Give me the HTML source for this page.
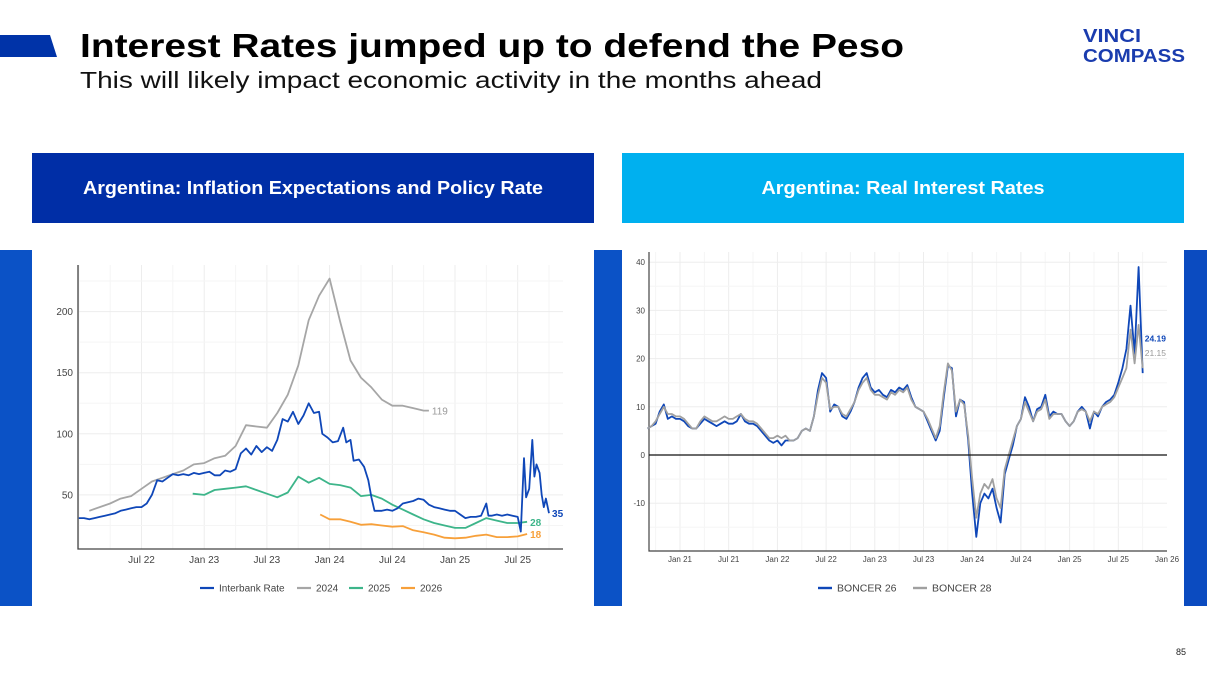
<!DOCTYPE html>
<html><head><meta charset="utf-8"><style>
html,body{margin:0;padding:0;background:#fff;}
svg{display:block;font-family:"Liberation Sans",sans-serif;}
</style></head><body>
<svg id="page" width="1207" height="679" viewBox="0 0 1207 679" xmlns="http://www.w3.org/2000/svg">
<rect width="1207" height="679" fill="#fff"/>
<polygon points="0,35 50,35 57,57 0,57" fill="#0033a8"/>
<text x="80" y="57" font-size="33" font-weight="bold" fill="#000" textLength="824" lengthAdjust="spacingAndGlyphs">Interest Rates jumped up to defend the Peso</text>
<text x="80" y="88" font-size="23" fill="#111" textLength="742" lengthAdjust="spacingAndGlyphs">This will likely impact economic activity in the months ahead</text>
<text x="1083" y="42" font-size="18" font-weight="bold" fill="#1a3cae" textLength="58" lengthAdjust="spacingAndGlyphs">VINCI</text>
<text x="1083" y="62" font-size="18" font-weight="bold" fill="#1a3cae" textLength="102" lengthAdjust="spacingAndGlyphs">COMPASS</text>
<rect x="32" y="153" width="562" height="70" fill="#002ea6"/>
<text x="313" y="194" font-size="18" font-weight="bold" fill="#fff" text-anchor="middle" textLength="460" lengthAdjust="spacingAndGlyphs">Argentina: Inflation Expectations and Policy Rate</text>
<rect x="622" y="153" width="562" height="70" fill="#00b0ef"/>
<text x="903" y="194" font-size="18" font-weight="bold" fill="#fff" text-anchor="middle" textLength="283" lengthAdjust="spacingAndGlyphs">Argentina: Real Interest Rates</text>
<rect x="0" y="250" width="32" height="356" fill="#0b52c6"/>
<rect x="594" y="250" width="28" height="356" fill="#0b52c6"/>
<rect x="1184" y="250" width="23" height="356" fill="#0b4bc0"/>
<g id="left-chart"></g>
<g id="right-chart"></g>
<text x="1176" y="655" font-size="9" fill="#222">85</text>
</svg>
<script>
// ---------- Left chart data (month index: 0 = Jan 22) ----------
const ibDates = [0,0.5,1,1.5,2,2.5,3,3.5,4,4.5,5,5.5,6,6.5,7,7.5,8,8.5,9,9.5,10,10.5,11,11.5,12,12.5,13,13.5,14,14.5,15,15.5,16,16.5,17,17.5,18,18.5,19,19.5,20,20.5,21,21.5,22,22.5,23,23.3,23.8,24.3,24.8,25.3,25.6,26,26.3,26.8,27.3,27.7,28,28.3,29,29.5,30,30.5,31,31.5,32,32.5,33,33.5,34,34.5,35,35.5,36,36.5,37,37.5,38,38.5,39,39.2,39.5,40,40.5,41,41.5,42,42.3,42.6,42.8,43.1,43.4,43.6,43.8,44.1,44.3,44.5,44.7,45];
const ibValues = [31,31,30,31,32,33,34,35,37,38,39,40,40,43,50,62,61,64,67,66,67,66,68,67,68,69,66,66,70,69,71,84,88,83,90,85,89,86,95,112,110,118,108,115,125,117,118,100,97,93,94,105,93,95,78,79,73,62,48,37,37,38,37,39,43,44,45,47,46,42,40,39,38,37,37,34,31,32,32,33,43,33,33,34,33,34,33,32,20,80,48,55,95,65,75,68,50,40,47,35];
const e24Dates = [1,2,3,4,5,6,7,8,9,10,11,12,13,14,15,16,17,18,19,20,21,22,23,24,25,26,27,28,29,30,31,32,33,33.5];
const e24Values = [37,40,43,47,49,55,61,64,67,70,75,76,80,82,90,107,106,105,117,132,156,193,213,227,192,160,146,138,128,123,123,121,119,119];
const e25Dates = [10.9,12,13,14,15,16,17,18,19,20,21,22,23,24,25,26,27,28,29,30,31,32,33,34,35,36,37,38,39,40,41,42,42.9];
const e25Values = [51,50,54,55,56,57,54,51,48,52,65,60,64,59,58,56,49,50,47,42,38,34,30,27,25,23,23,27,31,29,27,27,28];
const e26Dates = [23.1,24,25,26,27,28,29,30,31,32,33,34,35,36,37,38,39,40,41,42,42.9];
const e26Values = [34,30,30,28,25.5,26,25,24,24.5,21,19.5,17.5,15,14.5,15,16.5,17.5,15.5,15.5,16,18];
const leftYTicks = [50,100,150,200];
const leftXTickMonths = [6,12,18,24,30,36,42];
const leftXTickLabels = ["Jul 22","Jan 23","Jul 23","Jan 24","Jul 24","Jan 25","Jul 25"];
const leftEndLabels = ["119","28","18","35"];

// ---------- Right chart data (month index: 0 = Jan 21) ----------
const bcDates = [-4,-3.5,-3,-2.5,-2,-1.5,-1,-0.5,0,0.5,1,1.5,2,2.5,3,3.5,4,4.5,5,5.5,6,6.5,7,7.5,8,8.5,9,9.5,10,10.5,11,11.5,12,12.5,13,13.5,14,14.5,15,15.5,16,16.5,17,17.5,18,18.5,19,19.5,20,20.5,21,21.5,22,22.5,23,23.5,24,24.5,25,25.5,26,26.5,27,27.5,28,28.5,29,29.5,30,30.5,31,31.5,32,32.5,33,33.5,34,34.5,35,35.5,36,36.5,37,37.5,38,38.5,39,39.5,40,40.5,41,41.5,42,42.5,43,43.5,44,44.5,45,45.5,46,46.5,47,47.5,48,48.5,49,49.5,50,50.5,51,51.5,52,52.5,53,53.5,54,54.5,55,55.5,56,56.5,57,57.5];
const b26Values = [5.5,6,6.5,9,10.5,7.5,8,7.5,7.5,7,6,5.5,5.5,6.5,7.5,7,6.5,6,6.5,7,6.5,6.5,7,8.5,7,6.5,6.5,6,5,4,3,2.5,3,2,3,3,3,3.5,5,5.5,5,8,13.5,17,16,9,10.5,10,8,7.5,9,11,14,16,17,14,13,13.5,12.5,12,13.5,13,14,13.5,14.5,12,10,9.5,9,7,5,3,5,12,18.5,18,8,11.5,11,3,-8,-17,-10,-8,-9,-7,-11,-14,-4,-1,2,6,7.5,12,10,7,9.5,10,12.5,8,9,8.5,8.5,7,6,7,9,10,9,5.5,9,8,10,11,11.5,12.5,15,18,22,31,21,39,17];
const b28Values = [5.5,6,7,8.5,10,8.5,8.5,8,8,7.5,6.5,5.5,5.5,7,8,7.5,7,7,7.5,8,7.5,7.5,8,8.5,7.5,7,7,6.5,5.5,4.5,3.5,3.5,4,3.5,4,3,3,3.5,5,5.5,5,8,12.5,16,15,9.5,10,10,8.5,8,9.5,11,13.5,15,16,13.5,12.5,12.5,12,11.5,13,12.5,13.5,13,14,11.5,10,9.5,9,7.5,5.5,3.5,6,13,19,17.5,9,11.5,10.5,4,-5,-13,-8,-6,-7,-5,-9,-11,-3,0,3,6,7.5,11,9,7,9,9.5,11.5,7.5,8.5,8.5,8.5,7,6,7,9,9.5,9,7,9,8.5,10,10.5,11,12,14,16,18,26,19,27,18];
const rightYTicks = [-10,0,10,20,30,40];
const rightXTickMonths = [0,6,12,18,24,30,36,42,48,54,60];
const rightXTickLabels = ["Jan 21","Jul 21","Jan 22","Jul 22","Jan 23","Jul 23","Jan 24","Jul 24","Jan 25","Jul 25","Jan 26"];
const rightEndValues = [24.19,21.15];

const NS = "http://www.w3.org/2000/svg";
function mk(tag, parent, attrs){ const e=document.createElementNS(NS,tag); for(const k in attrs) e.setAttribute(k,attrs[k]); parent.appendChild(e); return e; }
function pathD(dates, vals, xs, ys){ return dates.map((d,i)=>(i?"L":"M")+xs(d).toFixed(1)+","+ys(vals[i]).toFixed(1)).join(""); }

// ---------- Left chart ----------
(function(){
  const g = document.getElementById("left-chart");
  const x0=78, x1=563, yTop=265, yBot=549;
  const xs = m => 78.8 + m*10.45;
  const ys = v => 556 - v*1.222;
  for(let m=0; m<=48; m+=3){ const X=xs(m); if(X<x0||X>x1) continue;
    const l=mk("line",g,{x1:X,x2:X,y1:yTop,y2:yBot,stroke:m%6===0?"#ededed":"#f5f5f5","stroke-width":1});
    
     }
  for(let v=25; v<=225; v+=25){ const Y=ys(v);
    const l=mk("line",g,{x1:x0,x2:x1,y1:Y,y2:Y,stroke:v%50===0?"#ededed":"#f5f5f5","stroke-width":1});
    
     }
  const ax=mk("path",g,{d:`M${x0},${yTop}L${x0},${yBot}L${x1},${yBot}`,fill:"none",stroke:"#444","stroke-width":1.3});
  
  
  leftYTicks.forEach(v=>{ const t=mk("text",g,{x:x0-5,y:ys(v)+3.5,"font-size":10,fill:"#444","text-anchor":"end"}); t.textContent=v;
    
     });
  leftXTickMonths.forEach((m,i)=>{ const t=mk("text",g,{x:xs(m),y:563,"font-size":10,fill:"#444","text-anchor":"middle"}); t.textContent=leftXTickLabels[i];
    
     });
  const series=[[e24Dates,e24Values,"#a6a6a6","line-2024"],[e25Dates,e25Values,"#3db58a","line-2025"],[e26Dates,e26Values,"#f7a03a","line-2026"],[ibDates,ibValues,"#0f47b8","line-interbank-rate"]];
  series.forEach(s=>{ const p=mk("path",g,{d:pathD(s[0],s[1],xs,ys),fill:"none",stroke:s[2],"stroke-width":1.8,"stroke-linejoin":"round"});
    
     });
  const ends=[[e24Dates,e24Values,"#999"],[e25Dates,e25Values,"#3db58a"],[e26Dates,e26Values,"#f7a03a"],[ibDates,ibValues,"#0f47b8"]];
  ends.forEach((s,i)=>{ const n=s[0].length-1; const t=mk("text",g,{x:xs(s[0][n])+3,y:ys(s[1][n])+4,"font-size":10,"font-weight":i?"bold":"normal",fill:s[2]}); t.textContent=leftEndLabels[i];
    
     });
  const leg=[["Interbank Rate","#0f47b8",200],["2024","#a6a6a6",297],["2025","#3db58a",349],["2026","#f7a03a",401]];
  leg.forEach(l=>{ const k=mk("line",g,{x1:l[2],x2:l[2]+14,y1:588,y2:588,stroke:l[1],"stroke-width":2.2});
    
    
    const t=mk("text",g,{x:l[2]+19,y:591.5,"font-size":10,fill:"#444"}); t.textContent=l[0];
    
     });
})();

// ---------- Right chart ----------
(function(){
  const g = document.getElementById("right-chart");
  const x0=649, x1=1167, yTop=252, yBot=551;
  const xs = m => 680 + m*8.117;
  const ys = v => 455 - v*4.82;
  for(let m=-3; m<=60; m+=3){ const X=xs(m); if(X<x0||X>x1) continue;
    const l=mk("line",g,{x1:X,x2:X,y1:yTop,y2:yBot,stroke:m%6===0?"#ededed":"#f5f5f5","stroke-width":1});
    
     }
  for(let v=-15; v<=40; v+=5){ const Y=ys(v);
    const l=mk("line",g,{x1:x0,x2:x1,y1:Y,y2:Y,stroke:v%10===0?"#ededed":"#f5f5f5","stroke-width":1});
    
     }
  const ax=mk("path",g,{d:`M${x0},${yTop}L${x0},${yBot}L${x1},${yBot}`,fill:"none",stroke:"#444","stroke-width":1.2});
  
  
  rightYTicks.forEach(v=>{ const t=mk("text",g,{x:x0-4,y:ys(v)+3,"font-size":8,fill:"#444","text-anchor":"end"}); t.textContent=v;
    
     });
  rightXTickMonths.forEach((m,i)=>{ const t=mk("text",g,{x:xs(m),y:562,"font-size":8,fill:"#444","text-anchor":"middle"}); t.textContent=rightXTickLabels[i];
    
     });
  const p26=mk("path",g,{d:pathD(bcDates,b26Values,xs,ys),fill:"none",stroke:"#0f47b8","stroke-width":1.8,"stroke-linejoin":"round"});
  
  
  const p28=mk("path",g,{d:pathD(bcDates,b28Values,xs,ys),fill:"none",stroke:"#a0a0a0","stroke-width":1.8,"stroke-linejoin":"round"});
  
  
  const zl=mk("line",g,{x1:x0,x2:x1,y1:ys(0),y2:ys(0),stroke:"#111","stroke-width":1.2});
  
  
  const lx = xs(bcDates[bcDates.length-1])-2;
  const t1=mk("text",g,{x:lx,y:ys(rightEndValues[0])+3,"font-size":8.5,"font-weight":"bold",fill:"#0f47b8"}); t1.textContent=rightEndValues[0].toFixed(2);
  
  
  const t2=mk("text",g,{x:lx,y:ys(rightEndValues[1])+3,"font-size":8.5,fill:"#999"}); t2.textContent=rightEndValues[1].toFixed(2);
  
  
  const leg=[["BONCER 26","#0f47b8",818],["BONCER 28","#a0a0a0",913]];
  leg.forEach(l=>{ const k=mk("line",g,{x1:l[2],x2:l[2]+14,y1:588,y2:588,stroke:l[1],"stroke-width":2.4});
    
    
    const t=mk("text",g,{x:l[2]+19,y:591.5,"font-size":10.5,fill:"#444"}); t.textContent=l[0];
    
     });
})();
</script>
</body></html>
